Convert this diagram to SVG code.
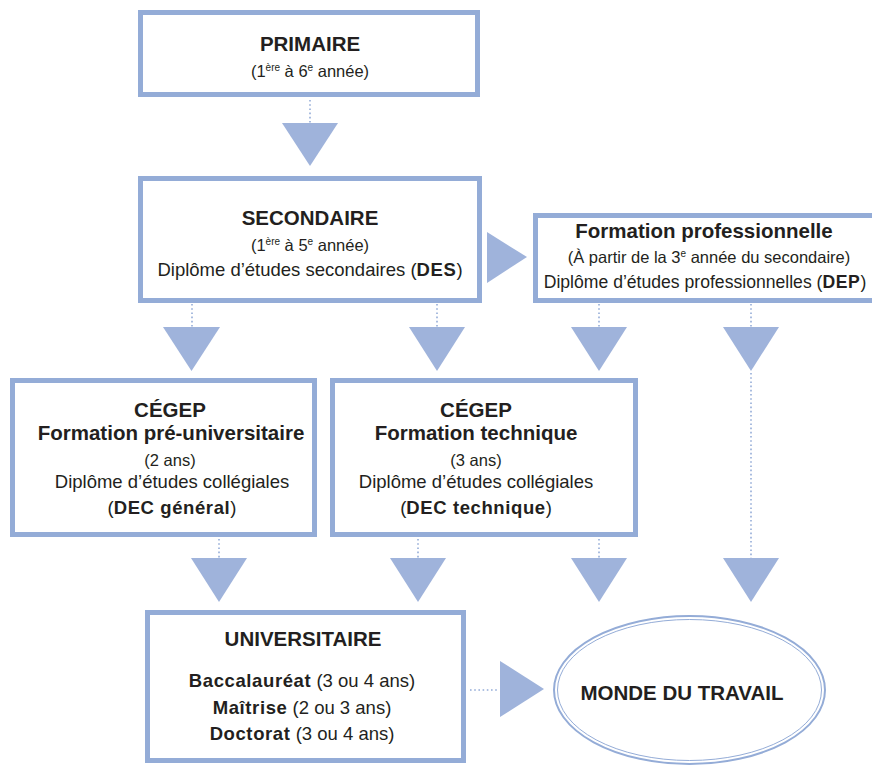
<svg xmlns="http://www.w3.org/2000/svg" width="872" height="766" viewBox="0 0 872 766">
<style>
.box{fill:#fff;stroke:#94acd7;stroke-width:5}
.tri{fill:#9fb3db}
.dot{stroke:#94acd7;stroke-width:1.6;stroke-dasharray:1.6 2.6;fill:none}
text{font-family:"Liberation Sans",Arial,sans-serif;fill:#231f20;text-anchor:middle}
.h{font-weight:bold;font-size:20.5px}
.s{font-size:16.5px}
.m{font-size:18.5px}
.b{font-weight:bold;letter-spacing:0.6px}
.sup{font-size:10px}
</style>
<rect width="872" height="766" fill="#fff"/>
<g id="connectors">
<line class="dot" x1="310" y1="100" x2="310" y2="123"/>
<polygon class="tri" points="282,123 338,123 310,166"/>
<polygon class="tri" points="487,232 487,283 527,257"/>
<line class="dot" x1="192" y1="304" x2="192" y2="327"/>
<polygon class="tri" points="163,327 220,327 191.5,371"/>
<line class="dot" x1="437" y1="304" x2="437" y2="327"/>
<polygon class="tri" points="409,327 465,327 437,371"/>
<line class="dot" x1="599" y1="304" x2="599" y2="327"/>
<polygon class="tri" points="571,327 627,327 599,371"/>
<line class="dot" x1="751" y1="304" x2="751" y2="327"/>
<polygon class="tri" points="723,327 779,327 751,371"/>
<line class="dot" x1="751" y1="373" x2="751" y2="558"/>
<polygon class="tri" points="723,558 779,558 751,602"/>
<line class="dot" x1="219" y1="539" x2="219" y2="558"/>
<polygon class="tri" points="191,558 247,558 219,602"/>
<line class="dot" x1="418" y1="539" x2="418" y2="558"/>
<polygon class="tri" points="390,558 446,558 418,602"/>
<line class="dot" x1="599" y1="539" x2="599" y2="558"/>
<polygon class="tri" points="571,558 627,558 599,602"/>
<line class="dot" x1="470" y1="690" x2="499" y2="690"/>
<polygon class="tri" points="500,661 500,717 544,689"/>
</g>
<g id="primaire">
<rect class="box" x="140.5" y="12.5" width="337" height="82"/>
<text class="h" x="310" y="51">PRIMAIRE</text>
<text class="s" x="310" y="77">(1<tspan class="sup" dy="-6">ère</tspan><tspan dy="6"> à 6</tspan><tspan class="sup" dy="-6">e</tspan><tspan dy="6"> année)</tspan></text>
</g>
<g id="secondaire">
<rect class="box" x="140.5" y="178.5" width="339" height="122"/>
<text class="h" x="310" y="225">SECONDAIRE</text>
<text class="s" x="310" y="251">(1<tspan class="sup" dy="-6">ère</tspan><tspan dy="6"> à 5</tspan><tspan class="sup" dy="-6">e</tspan><tspan dy="6"> année)</tspan></text>
<text class="m" x="310" y="276">Diplôme d’études secondaires (<tspan class="b">DES</tspan>)</text>
</g>
<g id="formation-pro">
<rect class="box" x="535.5" y="215.5" width="340" height="85"/>
<text class="h" x="704" y="238">Formation professionnelle</text>
<text class="s" x="709" y="263">(À partir de la 3<tspan class="sup" dy="-6">e</tspan><tspan dy="6"> année du secondaire)</tspan></text>
<text class="m" x="705" y="288" style="font-size:17.6px">Diplôme d’études professionnelles (<tspan class="b">DEP</tspan>)</text>
</g>
<g id="cegep-pre">
<rect class="box" x="12.5" y="380.5" width="302" height="154"/>
<text class="h" x="170" y="417">CÉGEP</text>
<text class="h" x="171" y="440">Formation pré-universitaire</text>
<text class="s" x="170" y="466">(2 ans)</text>
<text class="m" x="172" y="488">Diplôme d’études collégiales</text>
<text class="m" x="172" y="514">(<tspan class="b">DEC général</tspan>)</text>
</g>
<g id="cegep-tech">
<rect class="box" x="332.5" y="380.5" width="303" height="154"/>
<text class="h" x="476" y="417">CÉGEP</text>
<text class="h" x="476" y="440">Formation technique</text>
<text class="s" x="476" y="466">(3 ans)</text>
<text class="m" x="476" y="488">Diplôme d’études collégiales</text>
<text class="m" x="476" y="514">(<tspan class="b">DEC technique</tspan>)</text>
</g>
<g id="universitaire">
<rect class="box" x="147.5" y="612.5" width="316" height="148"/>
<text class="h" x="303" y="646">UNIVERSITAIRE</text>
<text class="m" x="302" y="687"><tspan class="b">Baccalauréat</tspan> (3 ou 4 ans)</text>
<text class="m" x="302" y="714"><tspan class="b">Maîtrise</tspan> (2 ou 3 ans)</text>
<text class="m" x="302" y="740"><tspan class="b">Doctorat</tspan> (3 ou 4 ans)</text>
</g>
<g id="monde-du-travail">
<ellipse cx="689.5" cy="690" rx="135.5" ry="74" fill="#fff" stroke="#94acd7" stroke-width="2"/>
<ellipse cx="689.5" cy="690" rx="132" ry="70.5" fill="none" stroke="#94acd7" stroke-width="1"/>
<text class="h" x="682" y="700">MONDE DU TRAVAIL</text>
</g>
</svg>
